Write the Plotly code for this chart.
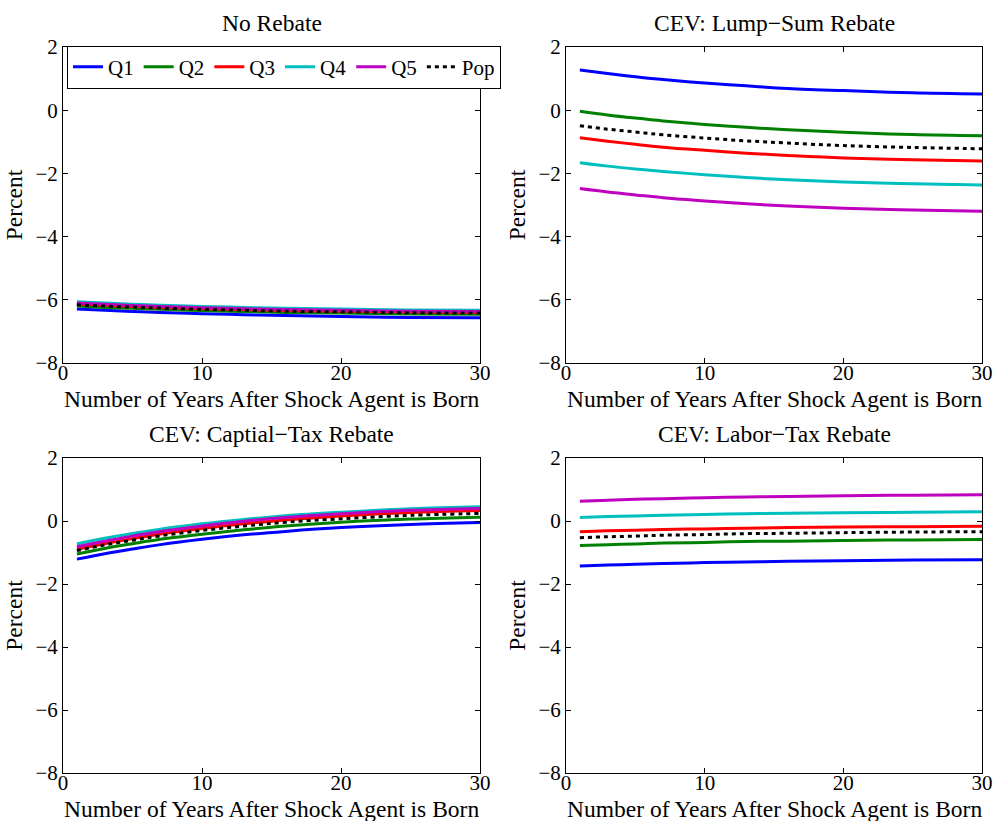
import plotly.graph_objects as go

# ---- data ----
years = [1, 3, 5, 7, 10, 13, 16, 20, 25, 30]
series_names = ["Q1", "Q2", "Q3", "Q4", "Q5", "Pop"]
panel_titles = ["No Rebate", "CEV: Lump\u2212Sum Rebate",
                "CEV: Captial\u2212Tax Rebate", "CEV: Labor\u2212Tax Rebate"]
x_title = "Number of Years After Shock Agent is Born"
y_title = "Percent"

no_rebate_q1 = [-6.29, -6.33, -6.37, -6.40, -6.44, -6.47, -6.50, -6.53, -6.56, -6.57]
no_rebate_q2 = [-6.20, -6.24, -6.27, -6.30, -6.34, -6.37, -6.40, -6.42, -6.45, -6.46]
no_rebate_q3 = [-6.13, -6.17, -6.21, -6.24, -6.28, -6.31, -6.34, -6.36, -6.39, -6.40]
no_rebate_q4 = [-6.06, -6.10, -6.14, -6.17, -6.21, -6.24, -6.27, -6.29, -6.32, -6.33]
no_rebate_q5 = [-6.10, -6.14, -6.18, -6.21, -6.25, -6.28, -6.31, -6.33, -6.36, -6.37]
no_rebate_pop = [-6.16, -6.20, -6.23, -6.26, -6.30, -6.33, -6.36, -6.38, -6.41, -6.42]

lump_q1 = [1.27, 1.16, 1.06, 0.97, 0.86, 0.77, 0.69, 0.62, 0.55, 0.51]
lump_q2 = [-0.03, -0.15, -0.25, -0.34, -0.45, -0.54, -0.62, -0.70, -0.77, -0.81]
lump_q3 = [-0.87, -0.98, -1.08, -1.17, -1.27, -1.36, -1.43, -1.51, -1.57, -1.61]
lump_q4 = [-1.66, -1.77, -1.86, -1.94, -2.04, -2.13, -2.20, -2.27, -2.33, -2.37]
lump_q5 = [-2.48, -2.59, -2.68, -2.77, -2.87, -2.96, -3.03, -3.10, -3.16, -3.20]
lump_pop = [-0.49, -0.60, -0.69, -0.78, -0.88, -0.97, -1.04, -1.12, -1.18, -1.22]

cap_q1 = [-1.21, -1.04, -0.89, -0.75, -0.58, -0.44, -0.33, -0.21, -0.11, -0.05]
cap_q2 = [-1.05, -0.87, -0.72, -0.58, -0.42, -0.28, -0.16, -0.04, 0.06, 0.12]
cap_q3 = [-0.90, -0.72, -0.56, -0.41, -0.24, -0.09, 0.03, 0.16, 0.27, 0.33]
cap_q4 = [-0.73, -0.55, -0.40, -0.26, -0.09, 0.05, 0.17, 0.28, 0.39, 0.45]
cap_q5 = [-0.82, -0.64, -0.48, -0.33, -0.16, -0.01, 0.11, 0.23, 0.34, 0.40]
cap_pop = [-0.94, -0.76, -0.61, -0.47, -0.30, -0.16, -0.04, 0.07, 0.18, 0.24]

lab_q1 = [-1.43, -1.40, -1.37, -1.35, -1.32, -1.30, -1.28, -1.26, -1.24, -1.23]
lab_q2 = [-0.78, -0.75, -0.73, -0.70, -0.68, -0.65, -0.64, -0.62, -0.60, -0.59]
lab_q3 = [-0.34, -0.31, -0.29, -0.27, -0.25, -0.23, -0.21, -0.19, -0.18, -0.17]
lab_q4 = [0.11, 0.14, 0.16, 0.18, 0.21, 0.23, 0.25, 0.26, 0.28, 0.29]
lab_q5 = [0.63, 0.66, 0.69, 0.71, 0.74, 0.76, 0.78, 0.80, 0.82, 0.83]
lab_pop = [-0.53, -0.50, -0.48, -0.45, -0.43, -0.40, -0.39, -0.37, -0.35, -0.34]

x_ticks = [0, 10, 20, 30]
y_ticks = [-8, -6, -4, -2, 0, 2]

panels = [
    [no_rebate_q1, no_rebate_q2, no_rebate_q3, no_rebate_q4, no_rebate_q5, no_rebate_pop],
    [lump_q1, lump_q2, lump_q3, lump_q4, lump_q5, lump_pop],
    [cap_q1, cap_q2, cap_q3, cap_q4, cap_q5, cap_pop],
    [lab_q1, lab_q2, lab_q3, lab_q4, lab_q5, lab_pop],
]

# ---- styling ----
colors = ["rgb(0,0,255)", "rgb(0,128,0)", "rgb(255,0,0)",
          "rgb(0,191,191)", "rgb(191,0,191)", "rgb(0,0,0)"]
dashes = ["solid"] * 5 + ["4px,4px"]
FONT = "Liberation Serif, Times New Roman, serif"
W, H = 996, 821
TICK_SIZE = 21
LABEL_SIZE = 23.5

# panel pixel boxes (left, right, top, bottom)
boxes = [(63, 480, 47, 363), (566, 982, 47, 363),
         (63, 480, 458, 773), (566, 982, 458, 773)]

fig = go.Figure()
for p, data in enumerate(panels):
    xa = "x" if p == 0 else f"x{p+1}"
    ya = "y" if p == 0 else f"y{p+1}"
    for s, vals in enumerate(data):
        fig.add_trace(go.Scatter(
            x=years, y=vals, mode="lines", name=series_names[s],
            line=dict(color=colors[s], width=3, dash=dashes[s], shape="spline"),
            xaxis=xa, yaxis=ya, showlegend=(p == 0)))

layout = dict(
    width=W, height=H,
    margin=dict(l=0, r=0, t=0, b=0, autoexpand=False),
    paper_bgcolor="white", plot_bgcolor="white",
    font=dict(family=FONT, color="black", size=TICK_SIZE),
    legend=dict(orientation="h", x=67 / W, y=1 - 67 / H,
                xanchor="left", yanchor="middle",
                bordercolor="black", borderwidth=1, bgcolor="white",
                font=dict(size=21, family=FONT), itemwidth=30,
                tracegroupgap=0),
    annotations=[],
)

for p, (l, r, t, b) in enumerate(boxes):
    sx = "" if p == 0 else str(p + 1)
    layout["xaxis" + sx] = dict(
        domain=[l / W, r / W], anchor="y" + sx, range=[0, 30],
        tickvals=x_ticks, ticks="inside", ticklen=5, tickcolor="black",
        showline=True, linecolor="black", linewidth=1, mirror="allticks",
        showgrid=False, zeroline=False, automargin=False,
        ticklabelstandoff=-9,
        tickfont=dict(size=TICK_SIZE, family=FONT),
    )
    layout["yaxis" + sx] = dict(
        domain=[1 - b / H, 1 - t / H], anchor="x" + sx, range=[-8, 2],
        tickvals=y_ticks, ticks="inside", ticklen=5, tickcolor="black",
        showline=True, linecolor="black", linewidth=1, mirror="allticks",
        showgrid=False, zeroline=False, automargin=False,
        ticklabelstandoff=0,
        tickfont=dict(size=TICK_SIZE, family=FONT),
        title=dict(text=y_title, font=dict(size=LABEL_SIZE, family=FONT), standoff=6),
    )
    # panel title
    layout["annotations"].append(dict(
        text=panel_titles[p], x=(l + r) / 2 / W, y=1 - (t - 24) / H,
        xref="paper", yref="paper", xanchor="center", yanchor="middle",
        showarrow=False, font=dict(size=LABEL_SIZE, family=FONT)))
    # x-axis title
    layout["annotations"].append(dict(
        text=x_title, x=(l + r) / 2 / W, y=1 - (b + 36) / H,
        xref="paper", yref="paper", xanchor="center", yanchor="middle",
        showarrow=False, font=dict(size=LABEL_SIZE, family=FONT)))

fig.update_layout(**layout)
fig.write_html("out.html")
